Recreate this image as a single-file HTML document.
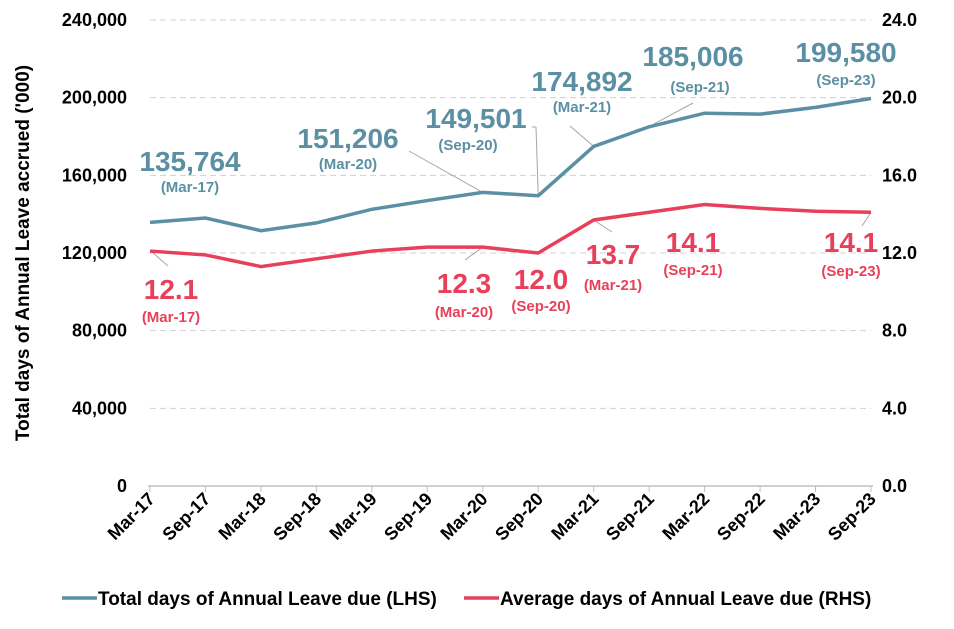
<!DOCTYPE html>
<html><head><meta charset="utf-8"><style>
body{margin:0;background:#fff;}
svg text{font-family:"Liberation Sans",Arial,sans-serif;font-weight:bold;}
</style></head><body>
<svg id="chart" width="954" height="624" viewBox="0 0 954 624" xmlns="http://www.w3.org/2000/svg"></svg>
<script>
const categories=["Mar-17","Sep-17","Mar-18","Sep-18","Mar-19","Sep-19","Mar-20","Sep-20","Mar-21","Sep-21","Mar-22","Sep-22","Mar-23","Sep-23"];
const totalDays=[135764,138000,131500,135500,142500,147000,151206,149501,174892,185006,192000,191500,195000,199580];
const avgDays=[12.1,11.9,11.3,11.7,12.1,12.3,12.3,12.0,13.7,14.1,14.5,14.3,14.15,14.1];
const leftTicks=[0,40000,80000,120000,160000,200000,240000];
const rightTicks=[0,4,8,12,16,20,24];
const blueLabels=[[0,"135,764","(Mar-17)"],[6,"151,206","(Mar-20)"],[7,"149,501","(Sep-20)"],[8,"174,892","(Mar-21)"],[9,"185,006","(Sep-21)"],[13,"199,580","(Sep-23)"]];
const redLabels=[[0,"12.1","(Mar-17)"],[6,"12.3","(Mar-20)"],[7,"12.0","(Sep-20)"],[8,"13.7","(Mar-21)"],[9,"14.1","(Sep-21)"],[13,"14.1","(Sep-23)"]];

const svg=document.getElementById('chart');
const NS="http://www.w3.org/2000/svg";
const X0=150,X1=871,Y0=486,Y1=20;
const x=i=>X0+(X1-X0)*i/(categories.length-1);
const yL=v=>Y0-(Y0-Y1)*v/240000;
const yR=v=>Y0-(Y0-Y1)*v/24;
function el(t,a,txt){const e=document.createElementNS(NS,t);for(const k in a)e.setAttribute(k,a[k]);if(txt!==undefined)e.textContent=txt;svg.appendChild(e);return e;}

leftTicks.forEach((t,i)=>{
  const yy=yL(t);
  if(t>0){const g=el('line',{x1:X0,x2:X1,y1:yy,y2:yy,stroke:'#d0d0d0','stroke-dasharray':'6,4','stroke-width':1});
  
  }
  const l=el('text',{x:127,y:yy+6,'text-anchor':'end','font-size':18,fill:'#000'},t.toLocaleString('en-US'));
  
  
});
rightTicks.forEach(t=>{
  const l=el('text',{x:882,y:yR(t)+6,'font-size':18,fill:'#000'},t.toFixed(1));
  
  
});
const ax=el('line',{x1:X0-2,x2:X1+2,y1:Y0,y2:Y0,stroke:'#bfbfbf','stroke-width':1.5});


categories.forEach((c,i)=>{
  const tk=el('line',{x1:x(i),x2:x(i),y1:Y0,y2:Y0+6,stroke:'#bfbfbf'});
  
  
  const l=el('text',{x:x(i)+6,y:Y0+14,'text-anchor':'end','font-size':18,fill:'#000',transform:`rotate(-45 ${x(i)+6} ${Y0+14})`},c);
  
  
});
const yt=el('text',{x:0,y:0,'text-anchor':'middle','font-size':19,fill:'#000',transform:'translate(29,253) rotate(-90)'},"Total days of Annual Leave accrued ('000)");



const leaders=[[409,151,x(6),yL(totalDays[6])],[532,127,536,127],[536,127,x(7),yL(totalDays[7])],[570,126,x(8),yL(totalDays[8])],[693,103,x(9)+5,yL(totalDays[9])-3],
[152,252,168,266],[465,260,x(6),yR(avgDays[6])],[612,232,x(8),yR(avgDays[8])],[862,226,x(13),yR(avgDays[13])]];
leaders.forEach(a=>{const l=el('line',{x1:a[0],y1:a[1],x2:a[2],y2:a[3],stroke:'#a6a6a6','stroke-width':1});

});

const bp=el('polyline',{points:totalDays.map((v,i)=>x(i)+','+yL(v)).join(' '),fill:'none',stroke:'#5b8fa3','stroke-width':3.5});


const rp=el('polyline',{points:avgDays.map((v,i)=>x(i)+','+yR(v)).join(' '),fill:'none',stroke:'#e8405a','stroke-width':3.5});



const bpos=[[190,171,190,192],[348,148,348,169],[476,128,468,150],[582,91,582,112],[693,66,700,92],[846,62,846,85]];
blueLabels.forEach((b,k)=>{const p=bpos[k];
  const a=el('text',{x:p[0],y:p[1],'text-anchor':'middle','font-size':28,fill:'#5b8fa3'},b[1]);
  
  
  const c=el('text',{x:p[2],y:p[3],'text-anchor':'middle','font-size':15,fill:'#5b8fa3'},b[2]);
  
  });
const rpos=[[171,299,171,322],[464,293,464,317],[541,289,541,311],[613,264,613,290],[693,252,693,275],[851,252,851,276]];
redLabels.forEach((b,k)=>{const p=rpos[k];
  const a=el('text',{x:p[0],y:p[1],'text-anchor':'middle','font-size':28,fill:'#e8405a'},b[1]);
  
  
  const c=el('text',{x:p[2],y:p[3],'text-anchor':'middle','font-size':15,fill:'#e8405a'},b[2]);
  
  });

const l1=el('line',{x1:62,x2:97,y1:598,y2:598,stroke:'#5b8fa3','stroke-width':3.5});


const t1=el('text',{x:98,y:605,'font-size':19,fill:'#000'},"Total days of Annual Leave due (LHS)");


const l2=el('line',{x1:464,x2:499,y1:598,y2:598,stroke:'#e8405a','stroke-width':3.5});


const t2=el('text',{x:500,y:605,'font-size':19,fill:'#000'},"Average days of Annual Leave due (RHS)");


</script>
</body></html>
